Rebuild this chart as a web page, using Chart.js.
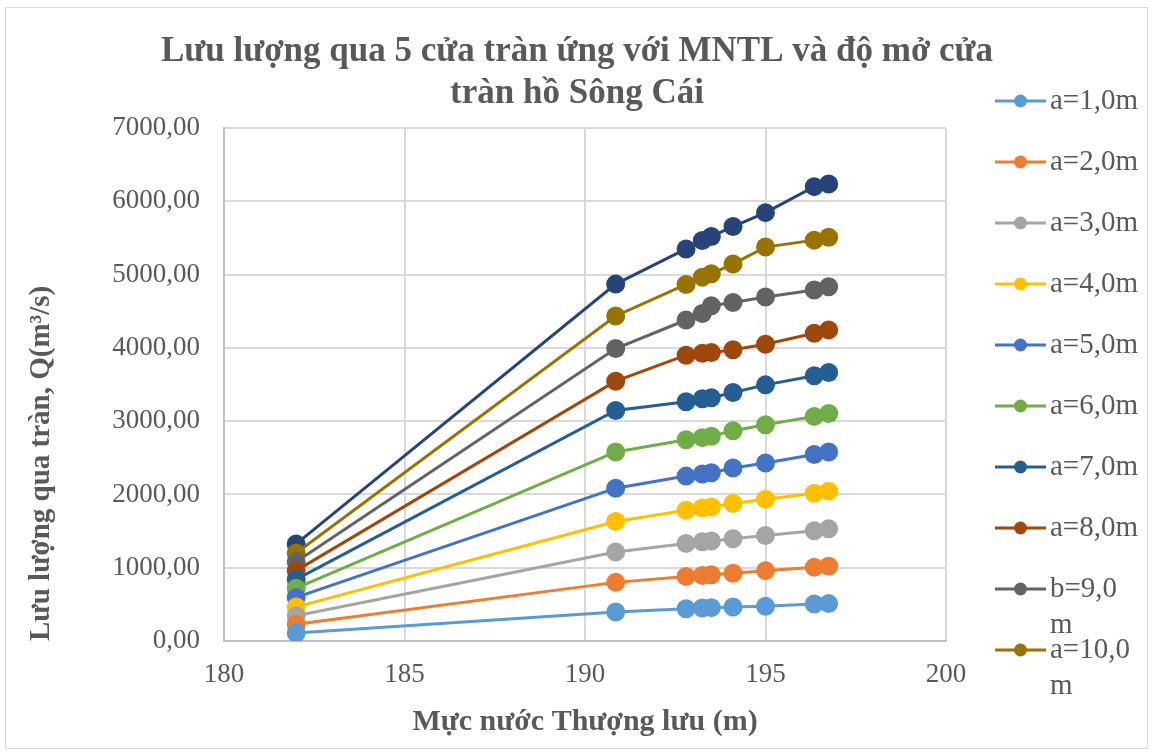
<!DOCTYPE html>
<html>
<head>
<meta charset="utf-8">
<script src="https://cdn.jsdelivr.net/npm/chart.js@4.4.1/dist/chart.umd.min.js"></script>
<style>
  html, body { margin: 0; padding: 0; background: #fff; }
  #wrap { position: relative; width: 1154px; height: 754px; }
  #frame { position: absolute; left: 5px; top: 7px; width: 1141px; height: 740px;
           border: 1px solid #d9d9d9; pointer-events: none; }
</style>
</head>
<body>
<div id="wrap">
  <canvas id="flowChart" width="1154" height="754"></canvas>
  <div id="frame"></div>
</div>
<script>
var chartTitle = ["Lưu lượng qua 5 cửa tràn ứng với MNTL và độ mở cửa", "tràn hồ Sông Cái"];

// Mực nước thượng lưu (m)
var levels = [182, 190.85, 192.8, 193.25, 193.5, 194.1, 195, 196.35, 196.75];

var seriesNames = [
  "a=1,0m", "a=2,0m", "a=3,0m", "a=4,0m", "a=5,0m",
  "a=6,0m", "a=7,0m", "a=8,0m", "b=9,0m", "a=10,0m", "a=11,0m"
];

// Lưu lượng Q (m3/s) theo từng độ mở
var q1  = [110, 395, 440, 450, 455, 465, 475, 505, 510];
var q2  = [230, 800, 880, 895, 905, 925, 960, 1005, 1020];
var q3  = [345, 1215, 1330, 1355, 1365, 1395, 1440, 1505, 1530];
var q4  = [465, 1630, 1785, 1815, 1830, 1875, 1935, 2015, 2045];
var q5  = [595, 2085, 2250, 2280, 2295, 2360, 2430, 2545, 2580];
var q6  = [720, 2580, 2745, 2775, 2795, 2870, 2950, 3065, 3105];
var q7  = [840, 3145, 3265, 3305, 3320, 3390, 3495, 3620, 3665];
var q8  = [960, 3545, 3900, 3925, 3935, 3975, 4050, 4200, 4245];
var q9  = [1080, 3990, 4380, 4470, 4575, 4620, 4695, 4790, 4835];
var q10 = [1200, 4435, 4865, 4965, 5010, 5145, 5375, 5470, 5510];
var q11 = [1325, 4870, 5350, 5465, 5520, 5655, 5845, 6200, 6235];

var allSeries = [q1, q2, q3, q4, q5, q6, q7, q8, q9, q10, q11];

var colors = [
  "#5B9BD5", "#ED7D31", "#A5A5A5", "#FFC000", "#4472C4",
  "#70AD47", "#255E91", "#9E480E", "#636363", "#997300", "#264478"
];

var textGray = "#595959";
var serif = "'Liberation Serif', 'Times New Roman', serif";

var datasets = allSeries.map(function (vals, i) {
  return {
    label: seriesNames[i],
    data: vals.map(function (v, j) { return { x: levels[j], y: v }; }),
    borderColor: colors[i],
    backgroundColor: colors[i],
    borderWidth: 3,
    pointRadius: 8,
    pointHoverRadius: 8,
    showLine: true,
    fill: false
  };
});

// Tiêu đề căn giữa theo cả khung hình (như Excel)
var pageTitle = {
  id: "pageTitle",
  afterDraw: function (chart) {
    var ctx = chart.ctx;
    ctx.save();
    ctx.font = "bold 35px " + serif;
    ctx.fillStyle = textGray;
    ctx.textAlign = "center";
    ctx.textBaseline = "middle";
    chartTitle.forEach(function (t, n) { ctx.fillText(t, 577, 52 + n * 42); });
    ctx.restore();
  }
};

// Chú thích bên phải kiểu Excel (đường + chấm, chữ xuống dòng)
var sideLegend = {
  id: "sideLegend",
  afterDraw: function (chart) {
    var ctx = chart.ctx;
    var x0 = 995, x1 = 1046, tx = 1050;
    var y = 101, step = 61, lineH = 36;
    ctx.save();
    ctx.font = "29px " + serif;
    var maxW = ctx.measureText("a=8,0m").width + 1;
    chart.data.datasets.forEach(function (ds) {
      var label = ds.label;
      var lines = [label];
      if (ctx.measureText(label).width > maxW) {
        var k = label.length;
        while (k > 1 && ctx.measureText(label.slice(0, k)).width > maxW) k--;
        lines = [label.slice(0, k), label.slice(k)];
      }
      if (y + (lines.length - 1) * lineH + 12 > chart.height) return;
      ctx.strokeStyle = ds.borderColor;
      ctx.lineWidth = 3;
      ctx.beginPath();
      ctx.moveTo(x0, y);
      ctx.lineTo(x1, y);
      ctx.stroke();
      ctx.fillStyle = ds.backgroundColor;
      ctx.beginPath();
      ctx.arc((x0 + x1) / 2, y, 6.5, 0, Math.PI * 2);
      ctx.fill();
      ctx.fillStyle = textGray;
      ctx.textBaseline = "middle";
      ctx.textAlign = "left";
      lines.forEach(function (t, n) { ctx.fillText(t, tx, y + n * lineH); });
      y += step;
    });
    ctx.restore();
  }
};

var ctx = document.getElementById("flowChart");
var myChart = new Chart(ctx, {
  type: "scatter",
  data: { datasets: datasets },
  options: {
    responsive: false,
    animation: false,
    layout: { padding: { left: 10, right: 208, top: 128, bottom: 10 } },
    plugins: {
      legend: { display: false },
      tooltip: { enabled: false }
    },
    scales: {
      x: {
        type: "linear",
        min: 180,
        max: 200,
        ticks: {
          stepSize: 5,
          color: textGray,
          font: { family: serif, size: 27 },
          padding: 18
        },
        grid: { color: "#d9d9d9", lineWidth: 2, drawTicks: false },
        border: { color: "#bfbfbf", width: 2 },
        title: {
          display: true,
          text: "Mực nước Thượng lưu (m)",
          color: textGray,
          font: { family: serif, size: 30, weight: "bold" },
          padding: { top: 17, bottom: 4 }
        },
        afterFit: function (scale) { scale.height = 103; }
      },
      y: {
        min: 0,
        max: 7000,
        ticks: {
          stepSize: 1000,
          color: textGray,
          font: { family: serif, size: 27 },
          padding: 24,
          callback: function (v) { return v.toFixed(2).replace(".", ","); }
        },
        grid: { color: "#d9d9d9", lineWidth: 2, drawTicks: false },
        border: { color: "#bfbfbf", width: 2 },
        title: {
          display: true,
          text: "Lưu lượng qua tràn, Q(m³/s)",
          align: "start",
          color: textGray,
          font: { family: serif, size: 29, weight: "bold" },
          padding: { top: 14, bottom: 0 }
        },
        afterFit: function (scale) { scale.width = 214; }
      }
    }
  },
  plugins: [pageTitle, sideLegend]
});
</script>
</body>
</html>
